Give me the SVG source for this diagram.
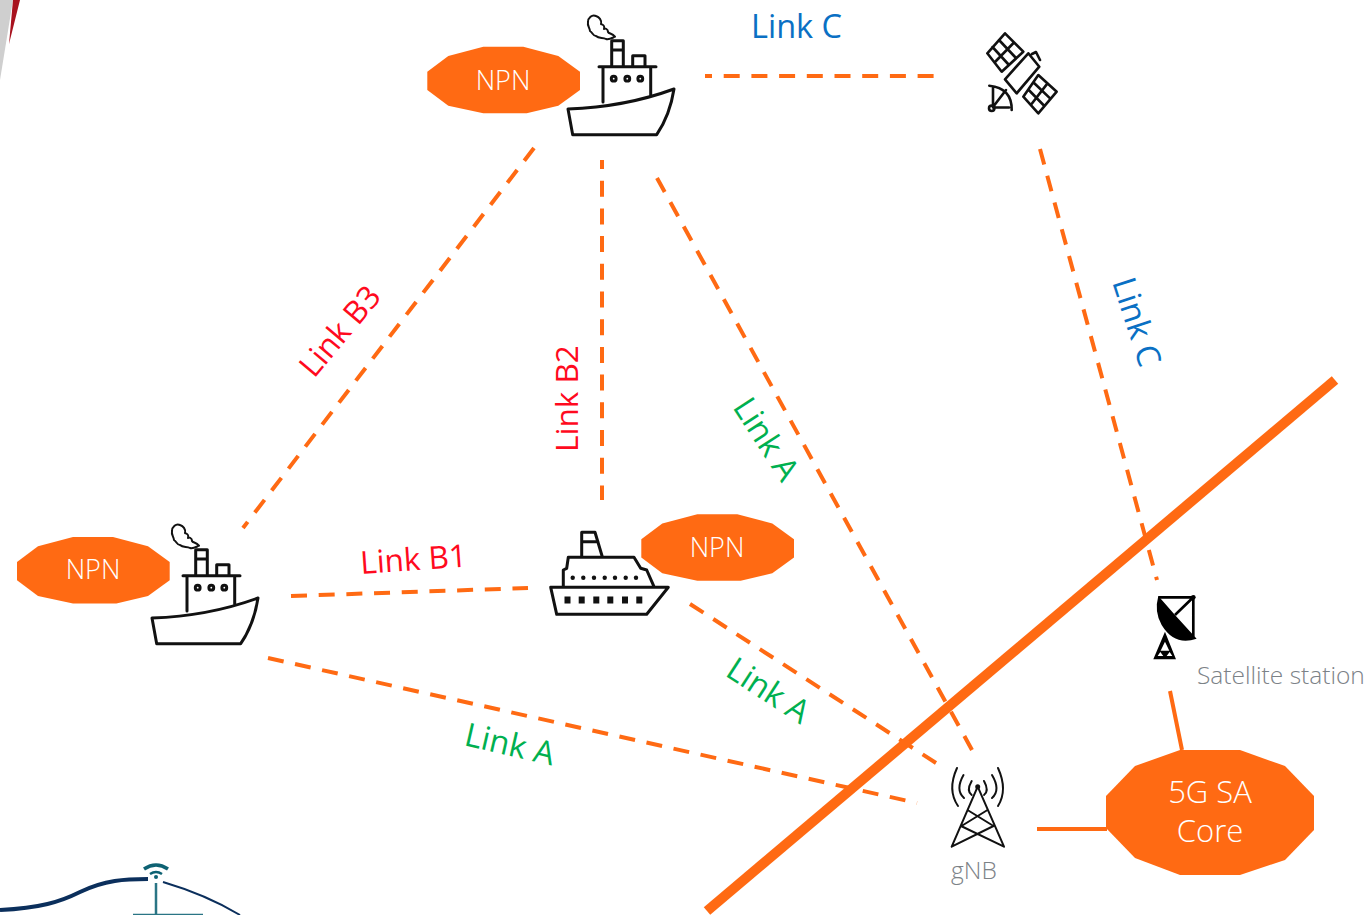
<svg xmlns="http://www.w3.org/2000/svg" xmlns:xlink="http://www.w3.org/1999/xlink" width="1371" height="915" viewBox="0 0 1371 915">
<style>
text{font-family:"Open Sans","Liberation Sans",sans-serif;font-weight:300}
.ic{fill:none;stroke:#111;stroke-width:3;stroke-linejoin:round;stroke-linecap:round}
.th{stroke-width:2}
.dash{fill:none;stroke:#ff6a13;stroke-width:4;stroke-dasharray:16 11.7}
.sol{fill:none;stroke:#ff6a13}
.oct{fill:#ff6a13}
.w{fill:#fff;text-anchor:middle}
.blue{fill:#0a70c4;font-size:32.5px;font-weight:400}
.red{fill:#ff0a1e;font-size:31.5px;font-weight:400}
.green{fill:#00b050;font-size:32.5px;font-weight:400}
.gray{fill:#7c8287;font-size:24.5px}
</style>
<defs>
<polygon id="npnShape" class="oct" points="427.3,71.7 448.3,56 483.3,46.7 523.3,46.7 558.3,56 580,71.7 580,90 558.3,105.7 526.7,113.3 483.3,113.3 448.3,105.7 427.3,90"/>
<g id="tug">
<path class="ic" d="M568,109 L572.7,134.7 L656.7,134.7 Q670,115 674,89 Q625,107 568,109Z"/>
<path class="ic" d="M599,66.7H656M603,67V102M650.7,67V95M611.7,66.7V40.7H623.3V66.7M611.7,50H623.3M632.7,66.7V55.7H645V66.7"/>
<circle class="ic" cx="613.7" cy="78.7" r="2.4"/><circle class="ic" cx="627.3" cy="78.7" r="2.4"/><circle class="ic" cx="640.3" cy="78.7" r="2.4"/>
<path class="ic th" d="M615,36.7C612,33 609,34 608,32C608,29 605,28 604,29C605,25 603,25 601,24C602,20 599,17 596,16C592,14 588,18 588,22C587,26 590,28 590,31C593,33 593,36 596,36C599,39 603,37 606,39C609,40 612,38 615,36.7"/>
</g>
</defs>

<g id="backdrop">
<polygon points="0,0 13,0 0,80" fill="#cfcfcf"/>
<polygon points="13,0 20,0 9,44" fill="#a8121e"/>
</g>

<g id="connectors">
<path class="dash" stroke-dashoffset="9" d="M705,76H934"/>
<path class="dash" d="M1040,149L1157,580"/>
<path class="dash" stroke-dashoffset="7" d="M602,160V500"/>
<path class="dash" d="M534,148L243,528"/>
<path class="dash" d="M657,178L972,750"/>
<path class="dash" d="M291,596L528,588"/>
<path class="dash" d="M690,604L936,763"/>
<path class="dash" d="M268,658L917,803"/>
<path class="sol" stroke-width="10" d="M707,911L1335,380"/>
<path class="sol" stroke-width="4" d="M1170,691L1182,750M1037,829H1107"/>
</g>

<g id="ship-top"><use xlink:href="#tug" href="#tug"/></g>
<g id="npn-top"><use xlink:href="#npnShape" href="#npnShape"/><text class="w" x="503" y="90" font-size="27">NPN</text></g>

<g id="ship-left"><use xlink:href="#tug" href="#tug" transform="translate(-416,509)"/></g>
<g id="npn-left"><use xlink:href="#npnShape" href="#npnShape" transform="translate(-410.3,490.3)"/><text class="w" x="93" y="579" font-size="27">NPN</text></g>

<g id="ship-liner">
<path class="ic" d="M550.7,587.3H668.3L646.7,614.3H556.7ZM563.3,586.7V570L566.7,568.3L568.3,557.3H634L640.7,568.3L646.7,570L654,586.7M581.7,556.7V532.3H595L602.3,556.7M581.7,541.7H598"/>
<g fill="#111"><circle cx="572.7" cy="577.7" r="2.2"/><circle cx="583.3" cy="577.7" r="2.2"/><circle cx="594" cy="577.7" r="2.2"/><circle cx="604.7" cy="577.7" r="2.2"/><circle cx="615" cy="577.7" r="2.2"/><circle cx="625.7" cy="577.7" r="2.2"/><circle cx="636" cy="577.7" r="2.2"/>
<rect x="564.5" y="596.5" width="6" height="7"/><rect x="578.7" y="596.5" width="6" height="7"/><rect x="593.3" y="596.5" width="6" height="7"/><rect x="607.3" y="596.5" width="6" height="7"/><rect x="622" y="596.5" width="6" height="7"/><rect x="636.3" y="596.5" width="6" height="7"/></g>
</g>
<g id="npn-liner"><use xlink:href="#npnShape" href="#npnShape" transform="translate(214,467.5)"/><text class="w" x="717" y="557" font-size="27">NPN</text></g>

<g id="satellite">
<g class="ic" style="stroke-width:2.6">
<path d="M1005,33.3L1023.3,51.7L1001.7,71.7L987.3,53.3ZM999,40L1016,58M992.5,47L1009,65M1014,42.5L994.5,62.5"/>
<path d="M1038.3,75L1056.7,91.7L1038.3,113.3L1023.3,96.7ZM1033.3,82.2L1050.6,98.9M1028.3,89.5L1044.4,106M1047.5,83.4L1030.8,105"/>
<path d="M1028.3,53.3L1039.3,66.7L1016.7,93.3L1005,79.3ZM1032,54L1036,52L1040,60"/>
<path d="M989.3,85.7Q1012,88 1011.7,110M993,88V107.5H1009M993,107L1006,90"/>
<circle cx="991.7" cy="108.3" r="2.7"/>
</g>
</g>

<g id="satellite-station">
<g transform="translate(930,580) scale(.3333)">
<path fill="#000" d="M685,48L735,105L800,176Q735,200 695,135Q672,95 685,48Z"/>
<path fill="none" stroke="#000" stroke-width="8" d="M685,52H790V170M790,52L735,105"/>
<circle cx="790" cy="52" r="7"/>
<path fill="#000" fill-rule="evenodd" d="M705,155L738,238H670ZM705,185L692,212H718ZM683,228H700L691,216ZM710,228H727L719,216Z"/>
</g>
<text class="gray" x="1197" y="684">Satellite station</text>
</g>

<g id="gnb">
<g class="ic th">
<path d="M977.7,786.7L951.7,846.7M977.7,786.7L1004,846.7M967.5,810L993.5,826M987.5,810L961.5,826M961,826L1004,846.7M993.5,826L951.7,846.7"/>
<path d="M971.7,781Q966,791 971.7,795M984,781Q989.5,791 984,795M963.5,775Q955,790 964,798M992,775Q1001,790 992,798M957,768Q947,790 958,806M998,768Q1008,790 998,806"/>
</g>
<circle cx="977.7" cy="786.7" r="2.5" fill="#111"/>
<text class="gray" x="951" y="879">gNB</text>
</g>

<g id="core">
<polygon class="oct" points="1106,796 1135,766 1180,750 1240,750 1285,766 1314,796 1314,830 1285,860 1240,875 1180,875 1135,858 1106,828"/>
<text class="w" x="1210" y="803" font-size="31">5G SA</text>
<text class="w" x="1210" y="842" font-size="31">Core</text>
</g>

<g id="labels">
<text class="blue" x="751" y="38">Link C</text>
<text class="blue" transform="translate(1112,282) rotate(72)">Link C</text>
<text class="red" transform="translate(314,379) rotate(-50)">Link B3</text>
<text class="red" transform="translate(578,452) rotate(-90)">Link B2</text>
<text class="red" transform="translate(361,574) rotate(-4)">Link B1</text>
<text class="green" transform="translate(732,407) rotate(57)">Link A</text>
<text class="green" transform="translate(724,675) rotate(33)">Link A</text>
<text class="green" transform="translate(463,745) rotate(13)">Link A</text>
</g>

<g id="bottom-node">
<path fill="none" stroke="#0b2f5c" stroke-width="4" d="M0,910C40,908 60,902 80,892C105,880 125,879 148,879"/>
<path fill="none" stroke="#0b2f5c" stroke-width="2" d="M163,882C190,890 215,900 240,915"/>
<path fill="none" stroke="#2a7585" stroke-width="2.5" d="M156,883V915M133,915H203"/>
<path fill="none" stroke="#0e6273" stroke-width="3.5" d="M144,869Q156,861 168,869"/>
<path fill="none" stroke="#0e6273" stroke-width="2.5" d="M150,874Q156,870 162,874"/>
<circle cx="156" cy="877" r="2" fill="#0e6273"/>
</g>
</svg>
